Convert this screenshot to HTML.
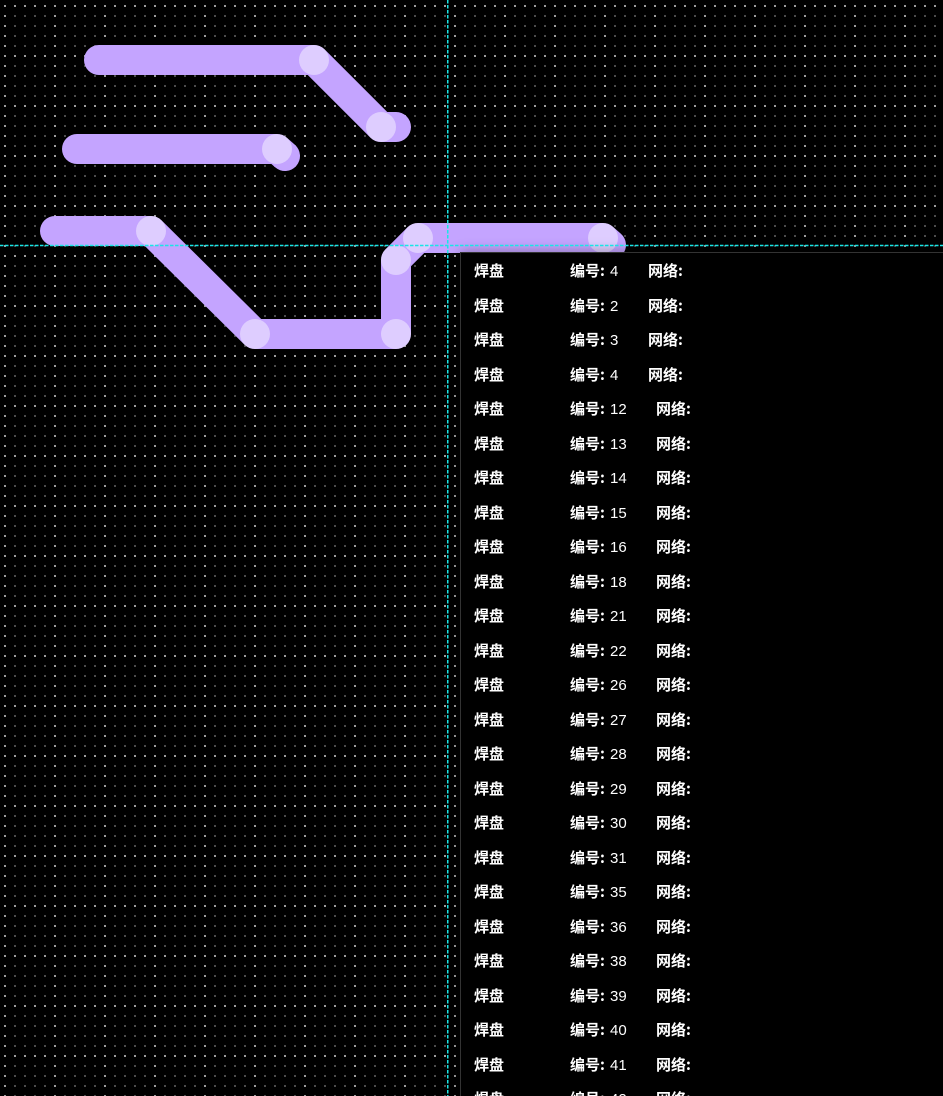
<!DOCTYPE html>
<html><head><meta charset="utf-8">
<style>
html,body{margin:0;padding:0;background:#000;width:943px;height:1096px;overflow:hidden}
svg{position:absolute;left:0;top:0}
#p{position:absolute;left:460px;top:252px;width:482px;height:843px;background:#000;border:1px solid #333;border-right:0;border-bottom:0;box-shadow:0 0 12px rgba(0,0,0,.35);overflow:hidden}
.r{position:absolute;left:13px;width:400px;height:20px;white-space:nowrap;font:15px/20px "WenQuanYi Zen Hei","Noto Sans CJK SC",sans-serif;color:#fff}
.r b{font-weight:700}
.r span{position:absolute;top:0}
.r i{position:absolute;left:40px;top:1px;font:15px/20px "Liberation Sans",sans-serif}
</style></head><body>
<svg width="943" height="1096" viewBox="0 0 943 1096">
<defs>
<pattern id="g" x="0" y="0" width="50" height="50" patternUnits="userSpaceOnUse">
<g fill="#4c4c4c" shape-rendering="crispEdges"><rect x="14" y="15" width="2" height="2"/><rect x="24" y="15" width="2" height="2"/><rect x="34" y="15" width="2" height="2"/><rect x="44" y="15" width="2" height="2"/>
<rect x="14" y="25" width="2" height="2"/><rect x="24" y="25" width="2" height="2"/><rect x="34" y="25" width="2" height="2"/><rect x="44" y="25" width="2" height="2"/>
<rect x="14" y="35" width="2" height="2"/><rect x="24" y="35" width="2" height="2"/><rect x="34" y="35" width="2" height="2"/><rect x="44" y="35" width="2" height="2"/>
<rect x="14" y="45" width="2" height="2"/><rect x="24" y="45" width="2" height="2"/><rect x="34" y="45" width="2" height="2"/><rect x="44" y="45" width="2" height="2"/></g>
<g fill="#9c9c9c" shape-rendering="crispEdges"><rect x="4" y="5" width="2" height="2"/><rect x="14" y="5" width="2" height="2"/><rect x="24" y="5" width="2" height="2"/><rect x="34" y="5" width="2" height="2"/><rect x="44" y="5" width="2" height="2"/>
<rect x="4" y="15" width="2" height="2"/><rect x="4" y="25" width="2" height="2"/><rect x="4" y="35" width="2" height="2"/><rect x="4" y="45" width="2" height="2"/></g>
</pattern>
</defs>
<rect width="943" height="1096" fill="#000"/>
<rect width="943" height="1096" fill="url(#g)"/>
<g fill="none" stroke="#c4a4ff" stroke-width="30" stroke-linecap="round" stroke-linejoin="round">
<path d="M99 60H314L381 127H396"/>
<path d="M77 149H277L285 156"/>
<path d="M55 231H151L255 334H396V260L418 238H603L611 245"/>
</g>
<g fill="#fff" fill-opacity=".45">
<circle cx="314" cy="60" r="15"/><circle cx="381" cy="127" r="15"/>
<circle cx="277" cy="149" r="15"/>
<circle cx="151" cy="231" r="15"/><circle cx="255" cy="334" r="15"/><circle cx="396" cy="334" r="15"/>
<circle cx="396" cy="260" r="15"/><circle cx="418" cy="238" r="15"/><circle cx="603" cy="238" r="15"/>
</g>
</svg>
<div id="p">
<div class="r" style="top:8px"><b>焊盘</b><span style="left:96px"><b>编号:</b><i>4</i></span><span style="left:174px"><b>网络:</b></span></div>
<div class="r" style="top:42.5px"><b>焊盘</b><span style="left:96px"><b>编号:</b><i>2</i></span><span style="left:174px"><b>网络:</b></span></div>
<div class="r" style="top:77px"><b>焊盘</b><span style="left:96px"><b>编号:</b><i>3</i></span><span style="left:174px"><b>网络:</b></span></div>
<div class="r" style="top:111.5px"><b>焊盘</b><span style="left:96px"><b>编号:</b><i>4</i></span><span style="left:174px"><b>网络:</b></span></div>
<div class="r" style="top:146px"><b>焊盘</b><span style="left:96px"><b>编号:</b><i>12</i></span><span style="left:182px"><b>网络:</b></span></div>
<div class="r" style="top:180.5px"><b>焊盘</b><span style="left:96px"><b>编号:</b><i>13</i></span><span style="left:182px"><b>网络:</b></span></div>
<div class="r" style="top:215px"><b>焊盘</b><span style="left:96px"><b>编号:</b><i>14</i></span><span style="left:182px"><b>网络:</b></span></div>
<div class="r" style="top:249.5px"><b>焊盘</b><span style="left:96px"><b>编号:</b><i>15</i></span><span style="left:182px"><b>网络:</b></span></div>
<div class="r" style="top:284px"><b>焊盘</b><span style="left:96px"><b>编号:</b><i>16</i></span><span style="left:182px"><b>网络:</b></span></div>
<div class="r" style="top:318.5px"><b>焊盘</b><span style="left:96px"><b>编号:</b><i>18</i></span><span style="left:182px"><b>网络:</b></span></div>
<div class="r" style="top:353px"><b>焊盘</b><span style="left:96px"><b>编号:</b><i>21</i></span><span style="left:182px"><b>网络:</b></span></div>
<div class="r" style="top:387.5px"><b>焊盘</b><span style="left:96px"><b>编号:</b><i>22</i></span><span style="left:182px"><b>网络:</b></span></div>
<div class="r" style="top:422px"><b>焊盘</b><span style="left:96px"><b>编号:</b><i>26</i></span><span style="left:182px"><b>网络:</b></span></div>
<div class="r" style="top:456.5px"><b>焊盘</b><span style="left:96px"><b>编号:</b><i>27</i></span><span style="left:182px"><b>网络:</b></span></div>
<div class="r" style="top:491px"><b>焊盘</b><span style="left:96px"><b>编号:</b><i>28</i></span><span style="left:182px"><b>网络:</b></span></div>
<div class="r" style="top:525.5px"><b>焊盘</b><span style="left:96px"><b>编号:</b><i>29</i></span><span style="left:182px"><b>网络:</b></span></div>
<div class="r" style="top:560px"><b>焊盘</b><span style="left:96px"><b>编号:</b><i>30</i></span><span style="left:182px"><b>网络:</b></span></div>
<div class="r" style="top:594.5px"><b>焊盘</b><span style="left:96px"><b>编号:</b><i>31</i></span><span style="left:182px"><b>网络:</b></span></div>
<div class="r" style="top:629px"><b>焊盘</b><span style="left:96px"><b>编号:</b><i>35</i></span><span style="left:182px"><b>网络:</b></span></div>
<div class="r" style="top:663.5px"><b>焊盘</b><span style="left:96px"><b>编号:</b><i>36</i></span><span style="left:182px"><b>网络:</b></span></div>
<div class="r" style="top:698px"><b>焊盘</b><span style="left:96px"><b>编号:</b><i>38</i></span><span style="left:182px"><b>网络:</b></span></div>
<div class="r" style="top:732.5px"><b>焊盘</b><span style="left:96px"><b>编号:</b><i>39</i></span><span style="left:182px"><b>网络:</b></span></div>
<div class="r" style="top:767px"><b>焊盘</b><span style="left:96px"><b>编号:</b><i>40</i></span><span style="left:182px"><b>网络:</b></span></div>
<div class="r" style="top:801.5px"><b>焊盘</b><span style="left:96px"><b>编号:</b><i>41</i></span><span style="left:182px"><b>网络:</b></span></div>
<div class="r" style="top:836px"><b>焊盘</b><span style="left:96px"><b>编号:</b><i>42</i></span><span style="left:182px"><b>网络:</b></span></div>
</div>
<svg width="943" height="1096" viewBox="0 0 943 1096" style="pointer-events:none">
<path d="M0 245.5H943" stroke="#19e6e6" stroke-width="1.5" stroke-dasharray="3.5 1.5"/>
<path d="M447.75 0V1096" stroke="#19e6e6" stroke-width="1.5" stroke-dasharray="3.5 1.5"/>
</svg>
</body></html>
